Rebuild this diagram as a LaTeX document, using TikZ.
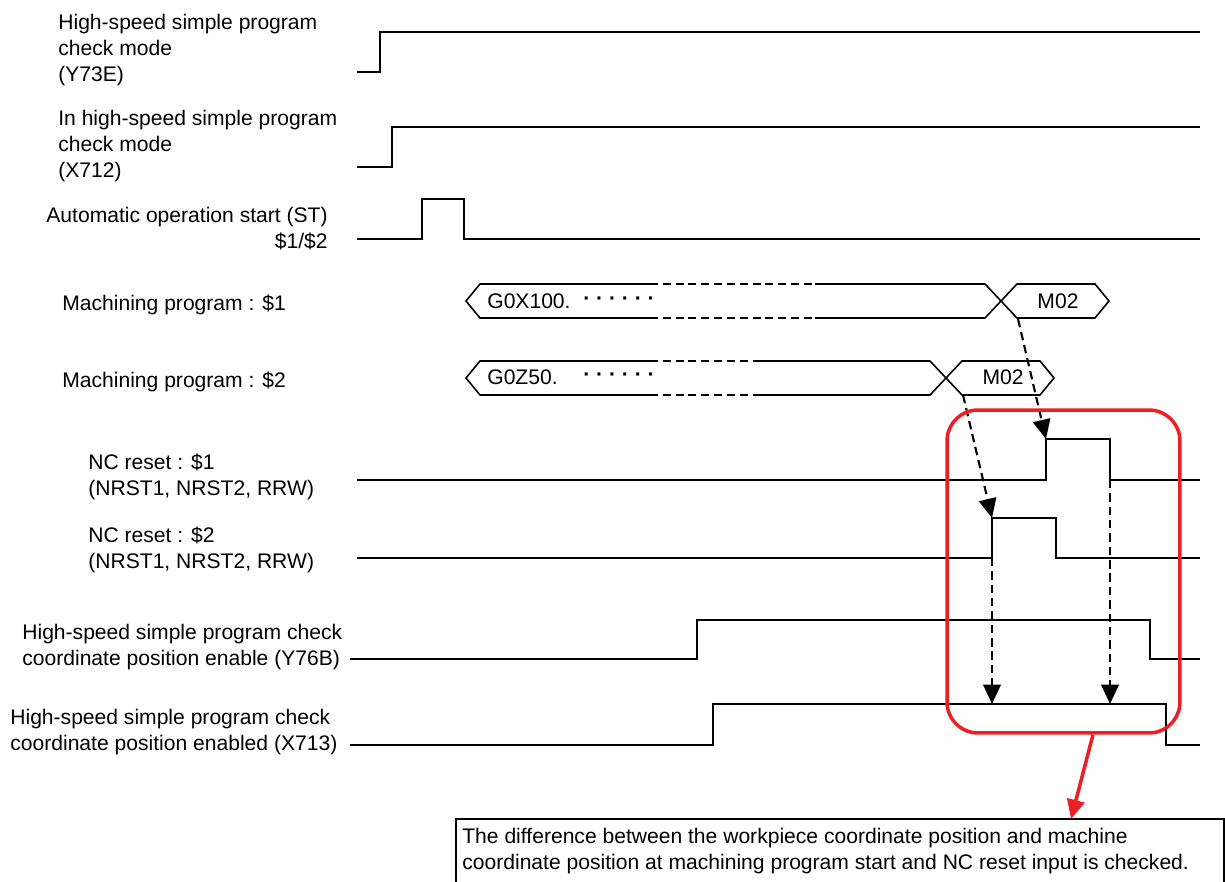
\documentclass[tikz,border=0pt]{standalone}
\usepackage{fontspec}
\setmainfont{Liberation Sans}
\usetikzlibrary{arrows.meta}
\definecolor{alarm}{RGB}{237,30,36}

\begin{document}
\begin{tikzpicture}[x=0.02cm,y=-0.02cm,
    lbl/.style={inner sep=0pt,font=\fontsize{12}{14.75}\selectfont,align=left},
    sig/.style={line width=0.9pt,line join=miter},
    dsh/.style={line width=0.9pt,dash pattern=on 4.5pt off 2.8pt},
    lnk/.style={line width=1.2pt,dash pattern=on 4.8pt off 2.8pt,-{Triangle[length=11pt,width=10pt]}},
    chkbox/.style={draw=alarm,line width=2pt,rounded corners=0.62cm,minimum width=4.66cm,minimum height=6.46cm,inner sep=0pt}]
    \useasboundingbox (0,0) rectangle (1225,882);
    % labels
    \node[lbl,anchor=north west] (modeCmd) at (58,14) {High-speed simple program\\check mode\\(Y73E)};
    \node[lbl,anchor=north west] (modeSt) at (58,110) {In high-speed simple program\\check mode\\(X712)};
    \node[lbl,anchor=north east,align=right] (start) at (328,207) {Automatic operation start (ST)\\\$1/\$2};
    \node[lbl,anchor=north west] (progA) at (62,295) {Machining program : \$1};
    \node[lbl,anchor=north west] (progB) at (62,372) {Machining program : \$2};
    \node[lbl,anchor=north west] (rstA) at (88,454) {NC reset : \$1\\(NRST1, NRST2, RRW)};
    \node[lbl,anchor=north west] (rstB) at (88,527) {NC reset : \$2\\(NRST1, NRST2, RRW)};
    \node[lbl,anchor=north west] (enbCmd) at (22,624) {High-speed simple program check\\coordinate position enable (Y76B)};
    \node[lbl,anchor=north west] (enbSt) at (10,709) {High-speed simple program check\\coordinate position enabled (X713)};
    % signals
    \draw[sig] (357,72) -- (380,72) -- (380,32) -- (1200,32);
    \draw[sig] (357,167) -- (392,167) -- (392,127) -- (1200,127);
    \draw[sig] (357,239) -- (422,239) -- (422,199) -- (464,199) -- (464,239) -- (1200,239);
    \draw[sig] (357,480) -- (1046,480) -- (1046,439) -- (1110,439) -- (1110,480) -- (1200,480);
    \draw[sig] (357,558) -- (992,558) -- (992,518) -- (1056,518) -- (1056,558) -- (1200,558);
    \draw[sig] (350,659) -- (697,659) -- (697,620) -- (1150,620) -- (1150,659) -- (1200,659);
    \draw[sig] (350,745) -- (713,745) -- (713,704) -- (1166,704) -- (1166,745) -- (1200,745);
    % program buses
    \foreach \t/\d/\c in {284/815/985, 361/760/930}
    {
    \draw[sig] (650,\t) -- (480,\t) -- (466,\t+17) -- (480,\t+34) -- (650,\t+34);
    \draw[dsh] (650,\t) -- (\d,\t);
    \draw[dsh] (650,\t+34) -- (\d,\t+34);
    \draw[sig] (\d,\t) -- (\c,\t) -- (\c+32,\t+34) -- (\c+110,\t+34) -- (\c+124,\t+17) -- (\c+110,\t) -- (\c+32,\t) -- (\c,\t+34) -- (\d,\t+34);
    }
    \node[lbl,anchor=west] (codeA) at (487,301) {G0X100.};
    \node[lbl,anchor=west] (dotsA) at (583,301) {\textbf{· · · · · ·}};
    \node[lbl] (endA) at (1058,301) {M02};
    \node[lbl,anchor=west] (codeB) at (487,377.5) {G0Z50.};
    \node[lbl,anchor=west] (dotsB) at (583,377.5) {\textbf{· · · · · ·}};
    \node[lbl] (endB) at (1003,377.5) {M02};
    % edges
    \coordinate (m1) at (1018,319);
    \coordinate (r1) at (1046,439);
    \coordinate (m2) at (963,395);
    \coordinate (r2) at (992,518);
    \coordinate (f2) at (992,558);
    \coordinate (e2) at (992,704);
    \coordinate (f1) at (1110,480);
    \coordinate (e1) at (1110,704);
    \draw[lnk] (m1) -- (r1);
    \draw[lnk] (m2) -- (r2);
    \draw[lnk] (f2) -- (e2);
    \draw[lnk] (f1) -- (e1);
    % check frame and note
    \node[chkbox] (chk) at (1063.5,571.5) {};
    \node[lbl,anchor=north west] (note) at (462,828) {The difference between the workpiece coordinate position and machine\\coordinate position at machining program start and NC reset input is checked.};
    \draw[line width=0.6pt] (456,882) |- (1224,819) -- (1224,882);
    \coordinate (hit) at (1071,819);
    \draw[alarm,line width=2pt,-{Triangle[length=11pt,width=10pt]}] ([xshift=0.59cm]chk.south) -- (hit);
\end{tikzpicture}
\end{document}
